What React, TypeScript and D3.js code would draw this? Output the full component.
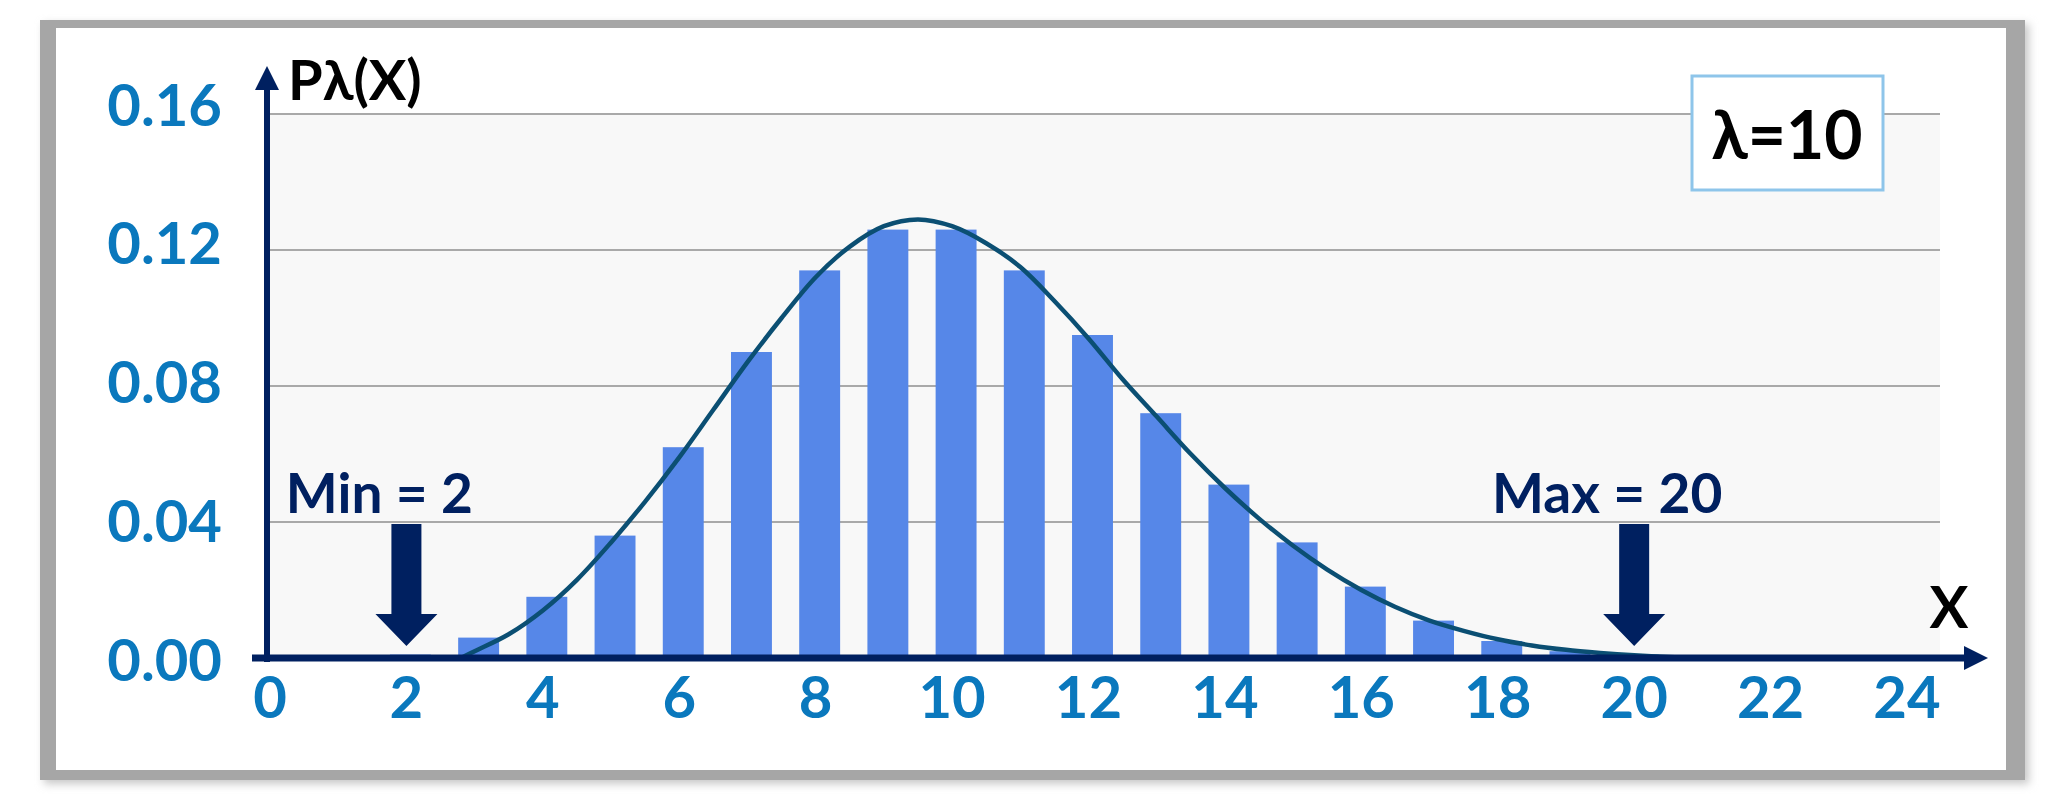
import React from 'react';
import * as d3 from 'd3';

// Poisson bars
const barX = [2, 3, 4, 5, 6, 7, 8, 9, 10, 11, 12, 13, 14, 15, 16, 17, 18, 19, 20];
const barP = [0.001, 0.006, 0.018, 0.036, 0.062, 0.090, 0.114, 0.126, 0.126, 0.114, 0.095, 0.072, 0.051, 0.034, 0.021, 0.011, 0.005, 0.002, 0.001];

// smooth envelope curve
const curveX = [2.8, 3, 3.5, 4, 4.5, 5, 5.5, 6, 6.5, 7, 7.5, 8, 8.5, 9, 9.5, 10, 10.5, 11, 11.5, 12, 12.5, 13, 13.5, 14, 14.5, 15, 15.5, 16, 16.5, 17, 17.5, 18, 18.5, 19, 19.5, 20, 20.5, 21];
const curveP = [0, 0.002, 0.007, 0.014, 0.023, 0.034, 0.046, 0.059, 0.073, 0.087, 0.100, 0.112, 0.121, 0.127, 0.129, 0.127, 0.122, 0.115, 0.105, 0.094, 0.082, 0.071, 0.060, 0.050, 0.041, 0.033, 0.026, 0.020, 0.015, 0.011, 0.008, 0.0055, 0.0037, 0.0024, 0.0015, 0.0008, 0.0003, 0];

const yTicks = [0, 0.04, 0.08, 0.12, 0.16];
const yTickLabels = ['0.00', '0.04', '0.08', '0.12', '0.16'];
const xTicks = [0, 2, 4, 6, 8, 10, 12, 14, 16, 18, 20, 22, 24];

const markNames = ['Min = 2', 'Max = 20'];
const markValues = [2, 20];

const yTitle = 'Pλ(X)';
const xTitle = 'X';
const boxText = 'λ=10';

const W = 2053;
const H = 804;
const FONT = 'Lato, "Open Sans", "DejaVu Sans", sans-serif';

const navy = '#002060';
const tickBlue = '#0a78bd';

export default function App() {
  const x = d3.scaleLinear().domain([0, 24]).range([270, 1907]);
  const y = d3.scaleLinear().domain([0, 0.16]).range([658, 114]);
  // label drift seen in the picture (top labels sit a bit higher)
  const yLab = d3.scaleLinear().domain([0, 0.16]).range([658, 103]);

  const axisX = x(0) - 3;
  const axisY = y(0);
  const plotRight = 1940;
  const bw = (x(1) - x(0)) * 0.6;

  const line = d3.line<number>()
    .x((d, i) => x(curveX[i]))
    .y((d) => y(d))
    .curve(d3.curveCatmullRom.alpha(0.5));

  // downward block arrow, tip at (cx, tip)
  const downArrow = (cx: number, top: number, tip: number) => {
    const p = d3.path();
    const sw = 15, hw = 31, hl = 32;
    p.moveTo(cx - sw, top);
    p.lineTo(cx + sw, top);
    p.lineTo(cx + sw, tip - hl);
    p.lineTo(cx + hw, tip - hl);
    p.lineTo(cx, tip);
    p.lineTo(cx - hw, tip - hl);
    p.lineTo(cx - sw, tip - hl);
    p.closePath();
    return p.toString();
  };

  return (
    <svg width={W} height={H} style={{ position: 'absolute', left: 0, top: 0, display: 'block' }}>
      <defs>
        <filter id="shadow" x="-5%" y="-5%" width="110%" height="110%">
          <feGaussianBlur stdDeviation="4" />
        </filter>
      </defs>
      <rect width={W} height={H} fill="#ffffff" />

      {/* frame */}
      <rect x={44} y={24} width={1985} height={760} fill="#c8c8c8" filter="url(#shadow)" />
      <rect x={40} y={20} width={1985} height={760} fill="#a6a6a6" />
      <rect x={56} y={28} width={1950} height={742} fill="#ffffff" />

      {/* plot background */}
      <rect x={axisX} y={y(0.16)} width={plotRight - axisX} height={axisY - y(0.16)} fill="#f8f8f8" />

      {/* gridlines */}
      {yTicks.filter((t) => t > 0).map((t) => (
        <line key={t} x1={axisX} x2={plotRight} y1={y(t)} y2={y(t)} stroke="#a9a9a9" strokeWidth={2} />
      ))}

      {/* bars */}
      {barX.map((k, i) => (
        <rect key={k} x={x(k) - bw / 2 + 4} y={y(barP[i])} width={bw} height={axisY - y(barP[i])} fill="#5687e8" />
      ))}

      {/* curve */}
      <path d={line(curveP) || ''} fill="none" stroke="#0b4f73" strokeWidth={4.5} />

      {/* axes */}
      <line x1={axisX} x2={axisX} y1={axisY + 4} y2={88} stroke={navy} strokeWidth={6} />
      <path d={`M${axisX},66 L${axisX - 12},90 L${axisX + 12},90 Z`} fill={navy} />
      <line x1={252} x2={1966} y1={axisY} y2={axisY} stroke={navy} strokeWidth={7} />
      <path d={`M1988,${axisY} L1964,${axisY - 12} L1964,${axisY + 12} Z`} fill={navy} />

      {/* y tick labels */}
      {yTicks.map((t, i) => (
        <text key={t} x={222} y={yLab(t)} textAnchor="end" dominantBaseline="central"
          fontFamily={FONT} fontWeight={700} fontSize={58} fill={tickBlue}>
          {yTickLabels[i]}
        </text>
      ))}

      {/* x tick labels */}
      {xTicks.map((t) => (
        <text key={t} x={x(t)} y={718} textAnchor="middle"
          fontFamily={FONT} fontWeight={700} fontSize={58} fill={tickBlue}>
          {t}
        </text>
      ))}

      {/* axis titles */}
      <text x={288} y={100} fontFamily={FONT} fontWeight={700} fontSize={56} fill="#000">{yTitle}</text>
      <text x={1949} y={628} textAnchor="middle" fontFamily={FONT} fontWeight={700} fontSize={58} fill="#000">{xTitle}</text>

      {/* min / max markers */}
      {markValues.map((v, i) => (
        <g key={v}>
          <path d={downArrow(x(v), 524, 646)} fill={navy} />
          <text x={x(v) - 27} y={513} textAnchor="middle" fontFamily={FONT} fontWeight={700}
            fontSize={55} fill={navy}>
            {markNames[i]}
          </text>
        </g>
      ))}

      {/* lambda box */}
      <rect x={1692} y={76} width={191} height={114} fill="#ffffff" stroke="#8ec5ea" strokeWidth={3} />
      <text x={1787} y={159} textAnchor="middle" fontFamily={FONT} fontWeight={700} fontSize={66} fill="#000">
        {boxText}
      </text>
    </svg>
  );
}
